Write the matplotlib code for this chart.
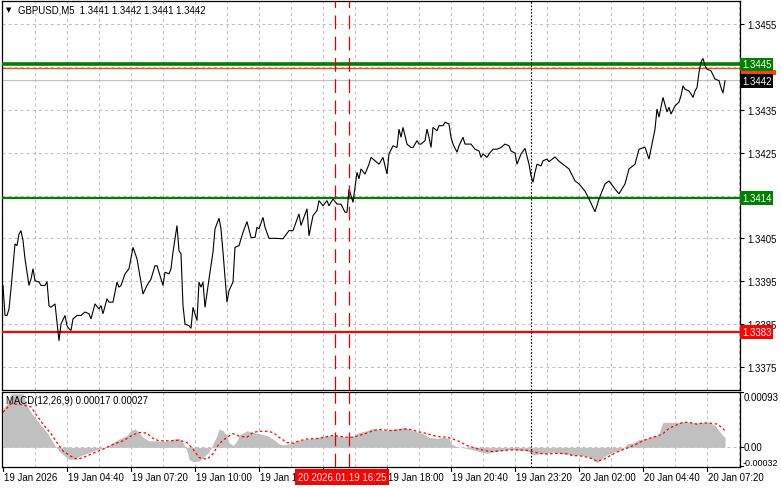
import matplotlib
matplotlib.use("Agg")
import matplotlib.pyplot as plt
import matplotlib.transforms as mtransforms
from matplotlib.patches import Rectangle

plt.rcParams['font.family'] = ['Liberation Sans', 'DejaVu Sans']

# ---------------- data ----------------
symbol_title = "GBPUSD,M5  1.3441 1.3442 1.3441 1.3442"
macd_title = "MACD(12,26,9) 0.00017 0.00027"

bars = [0, 1, 2, 3, 4, 6, 7, 8, 9, 10, 11, 13, 14, 15, 16, 18, 19, 21, 22, 23, 24, 26, 27, 28, 29,
        31, 32, 33, 34, 35, 37, 39, 41, 43, 44, 46, 48, 49, 50, 52, 53, 55, 57, 58, 59, 61, 63, 65,
        67, 70, 72, 74, 76, 77, 79, 80, 81, 83, 84, 85, 87, 88, 89, 90, 91, 93, 94, 95, 97, 98, 99,
        100, 101, 103, 105, 106, 108, 109, 110, 112, 113, 115, 116, 118, 120, 122, 124, 126, 127,
        128, 130, 131, 133, 136, 140, 143, 145, 148, 149, 152, 153, 155, 157, 158, 160, 162, 163,
        165, 167, 169, 171, 172, 173, 175, 177, 178, 179, 181, 183, 184, 186, 188, 190, 192, 193,
        195, 197, 198, 199, 200, 202, 204, 205, 207, 208, 209, 211, 212, 213, 214, 215, 217, 218,
        220, 221, 223, 224, 225, 227, 228, 230, 231, 234, 236, 238, 239, 240, 242, 243, 245, 247,
        249, 251, 253, 254, 256, 257, 259, 261, 263, 264, 265, 266, 267, 269, 270, 272, 273, 276,
        278, 283, 286, 288, 291, 293, 296, 298, 301, 303, 306, 308, 311, 313, 316, 318, 321, 323,
        326, 327, 328, 330, 332, 333, 334, 336, 338, 339, 340, 341, 343, 344, 345, 346, 347, 348,
        349, 350, 351, 352, 354, 356, 358, 359, 360, 361]
closes = [1.33940, 1.33870, 1.33870, 1.33885, 1.33932, 1.34037, 1.34033, 1.34060, 1.34068, 1.34045,
          1.34002, 1.33940, 1.33955, 1.33979, 1.33951, 1.33948, 1.33940, 1.33940, 1.33949, 1.33893,
          1.33889, 1.33897, 1.33854, 1.33811, 1.33850, 1.33870, 1.33846, 1.33839, 1.33835, 1.33862,
          1.33870, 1.33870, 1.33878, 1.33874, 1.33862, 1.33897, 1.33885, 1.33893, 1.33874, 1.33909,
          1.33901, 1.33901, 1.33948, 1.33936, 1.33940, 1.33967, 1.33979, 1.34029, 1.34002, 1.33920,
          1.33940, 1.33955, 1.33986, 1.33986, 1.33955, 1.33940, 1.33971, 1.33967, 1.33979, 1.34018,
          1.34080, 1.34021, 1.34014, 1.33893, 1.33850, 1.33846, 1.33840, 1.33889, 1.33858, 1.33948,
          1.33936, 1.33948, 1.33889, 1.33955, 1.34018, 1.34072, 1.34097, 1.34072, 1.34018, 1.33901,
          1.33928, 1.33948, 1.34029, 1.34033, 1.34064, 1.34089, 1.34052, 1.34052, 1.34076, 1.34072,
          1.34099, 1.34076, 1.34050, 1.34050, 1.34049, 1.34068, 1.34068, 1.34107, 1.34080, 1.34119,
          1.34056, 1.34103, 1.34115, 1.34138, 1.34126, 1.34138, 1.34126, 1.34142, 1.34130, 1.34130,
          1.34111, 1.34111, 1.34165, 1.34134, 1.34204, 1.34189, 1.34212, 1.34200, 1.34223, 1.34239,
          1.34231, 1.34223, 1.34239, 1.34200, 1.34247, 1.34266, 1.34262, 1.34305, 1.34286, 1.34309,
          1.34270, 1.34262, 1.34262, 1.34278, 1.34270, 1.34270, 1.34278, 1.34305, 1.34286, 1.34262,
          1.34309, 1.34301, 1.34313, 1.34313, 1.34321, 1.34317, 1.34286, 1.34270, 1.34251, 1.34266,
          1.34286, 1.34270, 1.34270, 1.34258, 1.34254, 1.34239, 1.34247, 1.34239, 1.34247, 1.34258,
          1.34258, 1.34262, 1.34270, 1.34266, 1.34254, 1.34249, 1.34223, 1.34247, 1.34260, 1.34223,
          1.34196, 1.34181, 1.34204, 1.34223, 1.34219, 1.34231, 1.34235, 1.34229, 1.34240, 1.34230,
          1.34212, 1.34184, 1.34177, 1.34160, 1.34142, 1.34112, 1.34142, 1.34177, 1.34184, 1.34165,
          1.34154, 1.34177, 1.34212, 1.34223, 1.34258, 1.34263, 1.34235, 1.34305, 1.34352, 1.34333,
          1.34379, 1.34345, 1.34356, 1.34340, 1.34359, 1.34368, 1.34383, 1.34406, 1.34398, 1.34394,
          1.34387, 1.34379, 1.34394, 1.34402, 1.34437, 1.34461, 1.34470, 1.34453, 1.34445, 1.34441,
          1.34422, 1.34418, 1.34402, 1.34389, 1.34418]

hist_bars = [0, 2, 4, 10, 12, 14, 17, 19, 22, 24, 26, 28, 31, 33, 36, 38, 42, 45, 48, 52, 55, 58, 62,
             64, 66, 68, 70, 73, 77, 80, 83, 85, 88, 90, 92, 93, 95, 98, 100, 103, 105, 107, 108, 110,
             112, 113, 115, 117, 118, 122, 125, 128, 132, 135, 138, 140, 143, 147, 152, 155, 158, 162,
             165, 168, 172, 175, 178, 182, 185, 188, 192, 195, 198, 201, 203, 207, 210, 213, 217, 220,
             223, 224, 227, 229, 232, 235, 238, 242, 245, 248, 252, 255, 258, 262, 265, 268, 272, 275,
             278, 282, 285, 288, 292, 295, 297, 298, 300, 303, 307, 310, 312, 315, 318, 322, 325, 328,
             329, 330, 333, 337, 340, 343, 347, 350, 353, 356, 358, 360, 361]
hist_vals = [0.00065, 0.00073, 0.00090, 0.00090, 0.00070, 0.00059, 0.00045, 0.00037, 0.00025, 0.00014,
             0.00003, -0.00006, -0.00015, -0.00020, -0.00020, -0.00015, -0.00010, -0.00006, -0.00003,
             0.00001, 0.00008, 0.00014, 0.00020, 0.00028, 0.00031, 0.00025, 0.00017, 0.00011, 0.00011,
             0.00010, 0.00011, 0.00014, 0.00015, 0.00008, -0.00006, -0.00020, -0.00024, -0.00023,
             -0.00017, -0.00008, 0.00006, 0.00020, 0.00031, 0.00028, 0.00020, 0.00008, 0.00003, 0.00011,
             0.00020, 0.00028, 0.00025, 0.00023, 0.00020, 0.00014, 0.00006, 0.00004, 0.00006, 0.00011,
             0.00014, 0.00015, 0.00017, 0.00019, 0.00020, 0.00019, 0.00017, 0.00019, 0.00025, 0.00028,
             0.00032, 0.00030, 0.00028, 0.00031, 0.00032, 0.00034, 0.00030, 0.00026, 0.00023, 0.00017,
             0.00015, 0.00017, 0.00015, 0.00006, 0.00001, 0.00000, -0.00002, -0.00004, -0.00007,
             -0.00010, -0.00008, -0.00006, -0.00004, -0.00004, -0.00005, -0.00006, -0.00013, -0.00011,
             -0.00010, -0.00008, -0.00010, -0.00011, -0.00013, -0.00013, -0.00015, -0.00020, -0.00026,
             -0.00023, -0.00017, -0.00011, -0.00006, -0.00003, 0.00006, 0.00007, 0.00013, 0.00015,
             0.00019, 0.00021, 0.00034, 0.00042, 0.00042, 0.00042, 0.00043, 0.00042, 0.00041, 0.00042,
             0.00042, 0.00037, 0.00028, 0.00020, 0.00017]

sig_bars = [0, 4, 9, 14, 17, 20, 24, 27, 30, 34, 37, 40, 45, 50, 55, 60, 65, 68, 72, 75, 78, 83, 88,
            92, 95, 98, 102, 105, 108, 112, 115, 118, 122, 125, 128, 132, 135, 138, 142, 145, 148, 152,
            158, 162, 165, 172, 175, 178, 182, 185, 188, 195, 202, 205, 208, 212, 215, 218, 222, 225,
            228, 232, 235, 238, 242, 245, 248, 255, 262, 265, 268, 272, 278, 282, 285, 288, 293, 297,
            300, 303, 307, 310, 313, 317, 320, 323, 327, 330, 333, 337, 340, 343, 347, 350, 353, 357,
            360, 361]
sig_vals = [0.00059, 0.00073, 0.00072, 0.00068, 0.00053, 0.00039, 0.00023, 0.00008, -0.00006, -0.00015,
            -0.00020, -0.00017, -0.00010, -0.00003, 0.00005, 0.00011, 0.00021, 0.00025, 0.00024, 0.00015,
            0.00011, 0.00011, 0.00012, 0.00008, -0.00003, -0.00017, -0.00020, -0.00011, 0.00006, 0.00017,
            0.00023, 0.00019, 0.00017, 0.00025, 0.00027, 0.00027, 0.00025, 0.00017, 0.00008, 0.00007,
            0.00011, 0.00014, 0.00015, 0.00018, 0.00020, 0.00017, 0.00017, 0.00020, 0.00024, 0.00028,
            0.00030, 0.00028, 0.00031, 0.00029, 0.00026, 0.00023, 0.00020, 0.00018, 0.00017, 0.00014,
            0.00010, 0.00003, 0.00000, -0.00003, -0.00006, -0.00007, -0.00006, -0.00004, -0.00005,
            -0.00007, -0.00010, -0.00011, -0.00010, -0.00011, -0.00014, -0.00014, -0.00017, -0.00023,
            -0.00021, -0.00015, -0.00008, -0.00004, 0.00000, 0.00006, 0.00011, 0.00015, 0.00019, 0.00023,
            0.00032, 0.00038, 0.00042, 0.00042, 0.00039, 0.00041, 0.00041, 0.00039, 0.00032, 0.00027]

price_ticks = [1.3375, 1.3385, 1.3395, 1.3405, 1.3415, 1.3425, 1.3435, 1.3445, 1.3455]
price_tick_labels = ["1.3375", "1.3385", "1.3395", "1.3405", "", "1.3425", "1.3435", "", "1.3455"]
time_tick_bars = [0, 32, 64, 96, 128, 160, 192, 224, 256, 288, 320, 352]
time_tick_labels = ["19 Jan 2026", "19 Jan 04:40", "19 Jan 07:20", "19 Jan 10:00", "19 Jan 12:40",
                    "", "19 Jan 18:00", "19 Jan 20:40", "19 Jan 23:20", "20 Jan 02:00",
                    "20 Jan 04:40", "20 Jan 07:20"]

level_values = [1.34456, 1.34144, 1.33831]
level_labels = ["1.3445", "1.3414", "1.3383"]
level_colors = ["#008000", "#008000", "#ff0000"]
level_widths = [2.6, 1.6, 1.6]
orange_level = 1.34448
bid_price = 1.34420
bid_label = "1.3442"

vline_bars = [166, 173]
vline_label = "20 2026.01.19 16:25"
separator_bar = 264

macd_ticks = [0.00093, 0.0, -0.00032]
macd_tick_labels = ["0.00093", "0.00", "-0.00032"]

# ---------------- figure ----------------
W, H = 781, 489
fig = plt.figure(figsize=(W / 100, H / 100), dpi=100)
fig.patch.set_facecolor("white")

ax = fig.add_axes([2 / W, 1 - 391 / H, 738 / W, 389 / H])
axm = fig.add_axes([2 / W, 1 - 468 / H, 738 / W, 75 / H])

XMIN, XMAX = -0.5, 368.5
FS = 6.9
grid_kw = dict(color="#c0c0c0", lw=0.75, linestyle=(0, (2.9, 2.9)), zorder=0)

for a in (ax, axm):
    a.set_xlim(XMIN, XMAX)
    a.set_facecolor("white")
    for s in a.spines.values():
        s.set_color("black")
        s.set_linewidth(0.9)
    a.set_xticks([])
    for b in range(16, 369, 16):
        a.axvline(b, **grid_kw)

# main panel
ax.set_ylim(1.33696, 1.34604)
for p in price_ticks:
    ax.axhline(p, **grid_kw)
ax.yaxis.tick_right()
ax.set_yticks(price_ticks)
ax.set_yticklabels(price_tick_labels, fontsize=FS)
ax.tick_params(axis="y", length=3, width=0.8, pad=2, colors="black")

ax.axhline(bid_price, color="#c0c0c0", lw=0.8, zorder=1)
ax.axhline(orange_level, color="#ff4500", lw=0.9, zorder=2)
for v, c, w in zip(level_values, level_colors, level_widths):
    ax.axhline(v, color=c, lw=w, zorder=3)

ax.plot(bars, closes, color="black", lw=0.8, zorder=4, solid_joinstyle="miter")

for b in vline_bars:
    for a in (ax, axm):
        a.axvline(b, color="#e00000", lw=0.9, linestyle=(0, (11, 6)), zorder=5)
for a in (ax, axm):
    a.axvline(separator_bar, color="black", lw=0.8, linestyle=(0, (1.5, 1.5)), zorder=5)

ytr = ax.get_yaxis_transform()
box = dict(boxstyle="square,pad=0.18", ec="none")
# sliver of the orange price label peeking out below the green one
ax.add_patch(Rectangle((1.002, orange_level - 0.00016), 0.047, 0.00012, transform=ytr,
                       fc="#ff4500", ec="none", clip_on=False, zorder=19))
for v, lab, c in zip(level_values, level_labels, level_colors):
    ax.text(1.003, v, lab, transform=ytr, ha="left", va="center", fontsize=FS, color="white",
            bbox=dict(box, fc=c), zorder=21, clip_on=False)
ax.text(1.003, bid_price - 0.00003, bid_label, transform=ytr, ha="left", va="center", fontsize=FS,
        color="white", bbox=dict(box, fc="black"), zorder=21, clip_on=False)

# header
ax.text(0.006, 0.978, "\u25bc", transform=ax.transAxes, fontsize=5, ha="left", va="center",
        family="DejaVu Sans")
ax.text(0.022, 0.978, symbol_title, transform=ax.transAxes, fontsize=FS, ha="left", va="center")

# MACD panel
axm.set_ylim(-0.00033, 0.00093)
axm.axhline(0, **grid_kw)
axm.fill_between(hist_bars, 0, hist_vals, color="#c0c0c0", lw=0, zorder=2)
axm.plot(sig_bars, sig_vals, color="#ff0000", lw=0.9, linestyle=(0, (2, 2)), zorder=3)
axm.set_yticks([])
mtr = axm.get_yaxis_transform()
axm.text(1.005, 0.00093, macd_tick_labels[0], transform=mtr, ha="left", va="top", fontsize=FS)
axm.text(1.005, 0.0, macd_tick_labels[1], transform=mtr, ha="left", va="center", fontsize=FS)
axm.text(1.003, -0.00033, macd_tick_labels[2], transform=mtr, ha="left", va="bottom", fontsize=6.5)
for t in macd_ticks:
    axm.plot([1.0, 1.004], [t, t], transform=mtr, color="black", lw=0.8, clip_on=False)
axm.text(0.006, 0.89, macd_title, transform=axm.transAxes, fontsize=FS, ha="left", va="center",
         zorder=10)

# time axis
xtr = mtransforms.blended_transform_factory(axm.transData, fig.transFigure)
for b, lab in zip(time_tick_bars, time_tick_labels):
    axm.plot([b, b], [1 - 468 / H, 1 - 472 / H], transform=xtr, color="black", lw=0.8, clip_on=False)
    if lab:
        axm.text(b + 0.3, 1 - 478 / H, lab, transform=xtr, ha="left", va="center", fontsize=FS,
                 clip_on=False)

axm.text(sum(vline_bars) / 2, 1 - 478 / H, vline_label, transform=xtr, ha="center", va="center",
         fontsize=FS, color="white",
         bbox=dict(boxstyle="square,pad=0.3", fc="#ff0000", ec="none"), zorder=30, clip_on=False)

fig.savefig("out.png", dpi=100, facecolor="white")
